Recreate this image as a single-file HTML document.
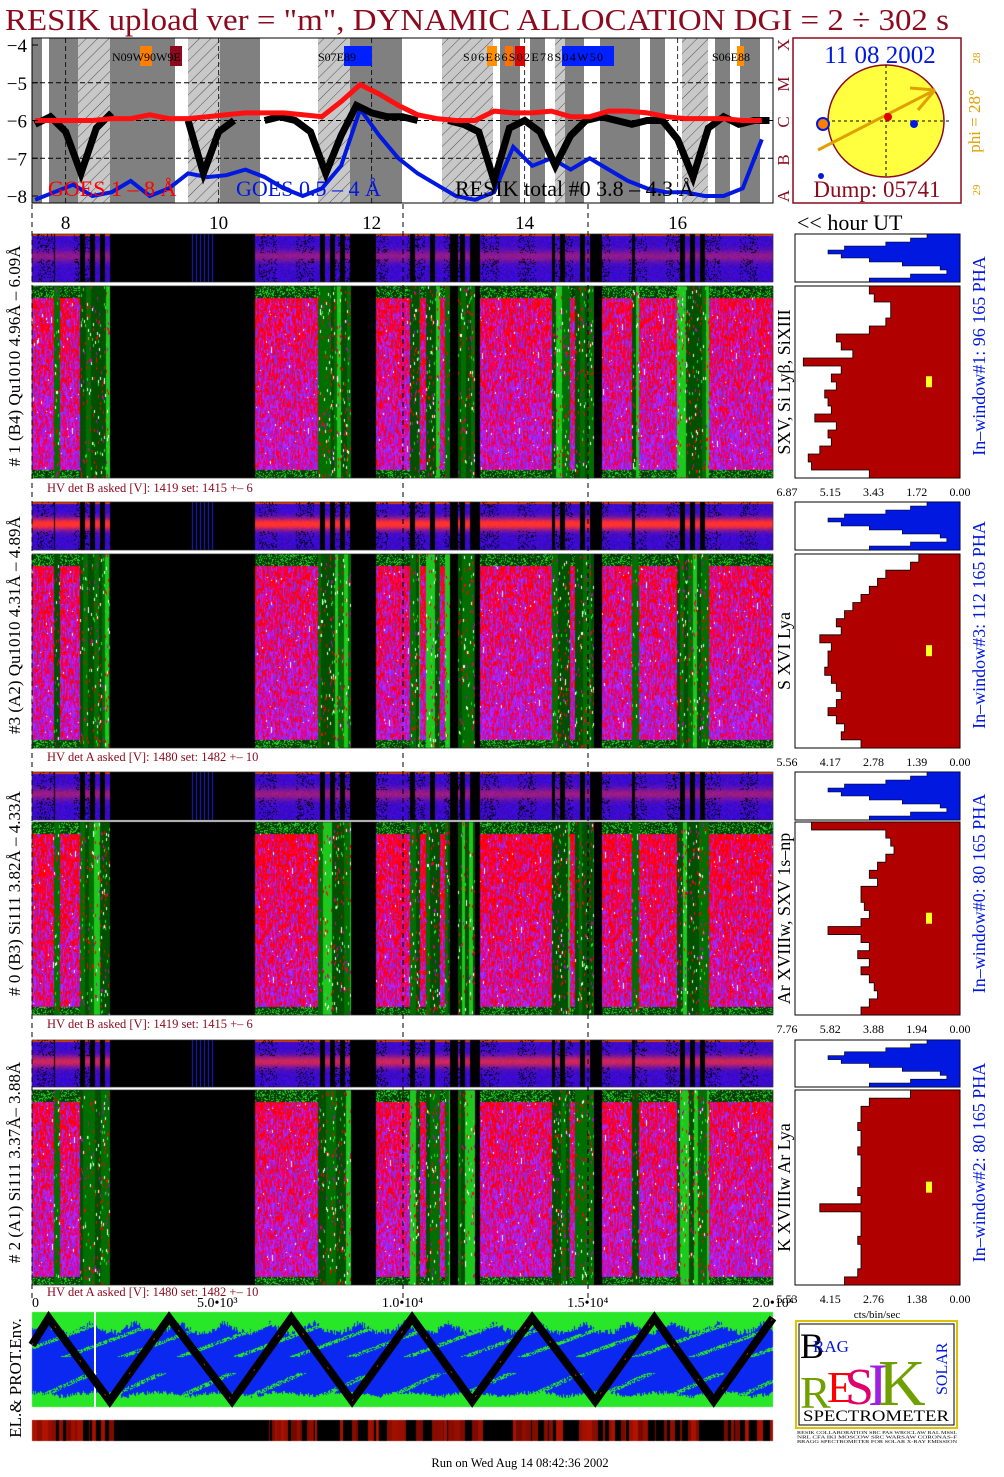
<!DOCTYPE html>
<html><head><meta charset="utf-8"><style>
html,body{margin:0;padding:0;background:#fff;}
#wrap{position:relative;width:1004px;height:1477px;overflow:hidden;}
canvas,svg{position:absolute;left:0;top:0;}
text{font-family:"Liberation Serif",serif;}
</style></head><body>
<div id="wrap">
<canvas id="cv" width="1004" height="1477"></canvas>
<svg id="sv" width="1004" height="1477" xmlns="http://www.w3.org/2000/svg"></svg>
</div>
<script>
// ---------- data ----------
const hours = [7.6,7.85,8.1,8.35,8.6,8.85,9.1,9.35,9.6,9.85,10.1,10.35,10.6,10.85,11.1,11.35,11.6,11.85,12.1,12.35,12.6,12.85,13.1,13.35,13.6,13.85,14.1,14.35,14.6,14.85,15.1,15.35,15.6,15.85,16.1,16.35,16.6,16.85,17.1];
const goesLong = [-6.0,-6.0,-6.0,-6.0,-5.95,-5.95,-5.85,-5.95,-5.95,-5.9,-5.85,-5.8,-5.8,-5.8,-5.85,-5.9,-5.5,-5.05,-5.3,-5.6,-5.85,-5.95,-6.0,-6.0,-5.75,-5.8,-5.8,-5.75,-5.9,-5.9,-5.75,-5.75,-5.8,-5.9,-5.95,-5.95,-5.95,-6.0,-6.0];
const goesShort = [-8.1,-7.9,-7.7,-8.0,-7.9,-7.6,-8.0,-7.8,-7.4,-7.5,-7.45,-7.3,-7.5,-7.8,-8.0,-7.8,-7.2,-5.7,-6.4,-7.0,-7.4,-7.7,-8.0,-8.1,-7.9,-6.7,-7.2,-7.0,-7.3,-7.0,-7.3,-7.6,-7.8,-7.9,-7.9,-8.0,-8.0,-7.8,-6.5];
const resikHours = [7.6,7.8,8.0,8.2,8.4,8.6,8.8,9.0,9.2,9.4,9.6,9.8,10.0,10.2,10.4,10.6,10.8,11.0,11.2,11.4,11.6,11.8,12.0,12.2,12.4,12.6,12.8,13.0,13.2,13.4,13.6,13.8,14.0,14.2,14.4,14.6,14.8,15.0,15.2,15.4,15.6,15.8,16.0,16.2,16.4,16.6,16.8,17.0,17.2];
const resikTotal = [-6.1,-5.9,-6.3,-7.4,-6.2,-5.8,null,null,null,null,-6.0,-7.4,-6.3,-6.0,null,-6.0,-5.9,-6.0,-6.3,-7.4,-6.4,-5.6,-5.8,-5.9,-5.9,-6.0,null,-6.0,-6.1,-6.3,-7.6,-6.2,-6.0,-6.3,-7.2,-6.4,-6.0,-5.9,-6.0,-6.1,-6.0,-6.0,-6.5,-7.5,-6.2,-5.9,-6.1,-6.0,-6.0];
const yTicks = [-4,-5,-6,-7,-8];
const hourTicks = [8,10,12,14,16];
const histA = [0.55,0.52,0.42,0.42,0.45,0.55,0.75,0.72,0.65,0.95,0.72,0.78,0.75,0.82,0.8,0.78,0.88,0.75,0.8,0.78,0.85,0.92,0.9,0.55];
const histB = [0.25,0.3,0.45,0.5,0.55,0.6,0.65,0.7,0.75,0.72,0.85,0.78,0.8,0.8,0.82,0.78,0.75,0.72,0.75,0.8,0.75,0.7,0.72,0.6];
const histC = [0.9,0.45,0.42,0.4,0.45,0.5,0.55,0.5,0.6,0.6,0.58,0.55,0.6,0.8,0.6,0.55,0.62,0.55,0.6,0.55,0.52,0.5,0.55,0.6];
const histD = [0.3,0.55,0.6,0.6,0.62,0.6,0.6,0.62,0.6,0.6,0.6,0.6,0.62,0.6,0.85,0.6,0.6,0.6,0.62,0.6,0.6,0.6,0.62,0.7];
const phaProfile = [0.2,0.3,0.45,0.7,0.8,0.72,0.55,0.35,0.12,0.08,0.3,0.55];
const histTicksA = ["6.87","5.15","3.43","1.72","0.00"];
const histTicksB = ["5.56","4.17","2.78","1.39","0.00"];
const histTicksC = ["7.76","5.82","3.88","1.94","0.00"];
const histTicksD = ["5.53","4.15","2.76","1.38","0.00"];
const envPeaks = [0,1,0,1,0,1,0,1,0,1,0,1,0,1];
const envX = [0,0.0225,0.105,0.185,0.27,0.35,0.432,0.513,0.594,0.675,0.76,0.84,0.92,1.0];
const envTicks = ["0","5.0•10³","1.0•10⁴","1.5•10⁴","2.0•10⁴"];
</script>
<script>
const NS="http://www.w3.org/2000/svg";
const sv=document.getElementById('sv');
function el(tag,attrs,parent){const e=document.createElementNS(NS,tag);for(const k in attrs)e.setAttribute(k,attrs[k]);(parent||sv).appendChild(e);return e;}
function txt(s,attrs,parent){const e=el('text',attrs,parent);e.textContent=s;return e;}
const DR='#8b0a1e';
// ---------- canvas textures ----------
const cv=document.getElementById('cv');const ctx=cv.getContext('2d');
let seed=12345;function rnd(){seed=(seed*1103515245+12345)&0x7fffffff;return seed/0x7fffffff;}
const L=32,R=773;
const greenI=[[54,60],[80,110],[318,351],[410,420],[426,440],[445,450],[458,475],[552,570],[575,594],[632,639],[677,709]];
const blackI=[[110,255],[351,376],[450,458],[475,480],[594,602]];
function ctype(x){for(const b of blackI)if(x>=b[0]&&x<b[1])return 'k';for(const g of greenI)if(x>=g[0]&&x<g[1])return 'g';return 'm';}
const panels=[{sy:234,sh:48,y:286,h:192,hv:488,band:0.4},{sy:502,sh:48,y:554,h:194,hv:757,band:1},{sy:772,sh:48,y:822,h:193,hv:1024,band:0.45},{sy:1040,sh:47,y:1090,h:195,hv:1292,band:0.7}];
const img=ctx.createImageData(1004,1477);const D=img.data;
function px(x,y,c){const i=(y*1004+x)*4;D[i]=c[0];D[i+1]=c[1];D[i+2]=c[2];D[i+3]=255;}
const magC=[[255,0,0],[230,0,150],[176,40,255],[140,40,230],[255,0,60]];
panels.forEach((p,pi)=>{
  let subShade=null,subEnd=0;
  for(let x=L;x<R;x++){
    const t=ctype(x);
    if(t==='g'&&x>=subEnd){subEnd=x+3+Math.floor(rnd()*4);const r=rnd();subShade=r<0.2?[30,200,30]:(r<0.6?[0,110,0]:[0,80,0]);}
    let prev=null,dash=0,dashC=null;
    for(let r=0;r<p.h;r++){
      const y=p.y+r;let c;
      if(t==='k'){c=[0,0,0];}
      else if(t==='g'){
        if(dash>0){c=dashC;dash--;}
        else if(rnd()<0.03){const q=rnd();dashC=q<0.4?[255,0,0]:(q<0.6?[200,0,200]:(q<0.8?[40,230,40]:[255,255,255]));dash=2;c=dashC;}
        else c=subShade;
      } else {
        if(r<12||r>p.h-9){const q=rnd();c=q<0.25?[40,220,40]:(q<0.5?[0,90,0]:[10,50,10]);}
        else{
          const tt=r/p.h;
          if(prev&&rnd()<0.55)c=prev;
          else{const q=rnd();const pr=0.62-0.5*tt+(pi===2?0.15:0);
            if(q<0.006)c=[255,255,255];
            else if(rnd()<pr)c=magC[rnd()<0.7?0:4];
            else c=magC[1+Math.floor(rnd()*3)];}
          prev=c;
        }
      }
      px(x,y,c);
    }
    for(let r=0;r<p.sh;r++){
      const y=p.sy+r;let c;const tt=r/p.sh;
      if(t==='k'){c=(x>188&&x<215&&(x%4===0))?[30,30,220]:[0,0,0];}
      else if(t==='g'&&(Math.floor(x/5)%2===0)){c=[0,0,0];}
      else{
        const band=p.band*Math.exp(-Math.pow((tt-0.45)/0.13,2));
        const base=[40+rnd()*40,10,170+rnd()*70];
        c=[base[0]+band*210,base[1]+band*40,base[2]*(1-band*0.8)];
        if(r<2)c=[220,60,0];
        if(band<0.3&&rnd()<0.18&&(x%37<18))c=[0,0,0];
      }
      px(x,y,c);
    }
  }
});
const eY=1312,eH=95;
for(let x=L;x<R;x++){
  const topG=8+Math.floor(10*Math.abs(Math.sin(x*0.07))+rnd()*6);
  const botG=eH-10-Math.floor(rnd()*4+4*Math.abs(Math.sin(x*0.05)));
  for(let r=0;r<eH;r++){
    let g=(r<topG)||(r>botG);
    if(!g&&r<45&&Math.sin(x*0.11+r*0.3)>0.85&&rnd()<0.7)g=true;
    if(!g&&r>60&&Math.sin(x*0.09+r*0.2)>0.9&&rnd()<0.6)g=true;
    px(x,eY+r,g?[40,230,40]:[10,40,240]);
  }
}
let bw=0,bc=[0,0,0];
for(let x=L;x<R;x++){
  if(bw<=0){bw=1+Math.floor(rnd()*6);const v=(x>112&&x<255)?rnd()*0.2:rnd();bc=v<0.45?[0,0,0]:[Math.floor(60+v*120),Math.floor(v*20),0];}
  bw--;
  for(let y=1420;y<1441;y++)px(x,y,bc);
}
ctx.putImageData(img,0,0);

txt('RESIK upload ver = "m", DYNAMIC ALLOCATION  DGI =   2 ÷ 302 s',{x:5,y:30,'font-size':31,fill:DR,textLength:944,lengthAdjust:'spacingAndGlyphs',});

const gTop=el('g',{});
const T={x0:32,x1:773,y0:38,y1:203};
const hx=h=>32+(h-7.56)*76.5;
const ly=v=>45+(-4-v)*37.75;
const defs=el('defs',{});
const pat=el('pattern',{id:'hatch',width:8,height:8,patternUnits:'userSpaceOnUse',patternTransform:'rotate(45)'},defs);
el('rect',{width:8,height:8,fill:'#c8c8c8'},pat);
el('line',{x1:0,y1:0,x2:0,y2:8,stroke:'#333','stroke-width':0.8},pat);
const bands=[[32,42,'g'],[49,78,'g'],[78,110,'h'],[110,175,'g'],[188,220,'h'],[220,260,'g'],[318,350,'h'],[350,402,'g'],[442,493,'h'],[500,520,'g'],[530,545,'g'],[555,565,'h'],[565,584,'g'],[600,640,'g'],[650,665,'g'],[682,708,'h'],[715,730,'g'],[740,760,'g']];
el('rect',{x:T.x0,y:T.y0,width:T.x1-T.x0,height:T.y1-T.y0,fill:'#fff'},gTop);
bands.forEach(b=>{const r=el('rect',{x:b[0],y:T.y0,width:b[1]-b[0],height:T.y1-T.y0,fill:b[2]==='g'?'#808080':'url(#hatch)'},gTop);});
[-5,-6,-7].forEach(v=>el('line',{x1:T.x0,x2:T.x1,y1:ly(v),y2:ly(v),stroke:'#000','stroke-dasharray':'5,3','stroke-width':1},gTop));
[8,10,12,14,16].forEach(h=>el('line',{x1:hx(h),x2:hx(h),y1:T.y0,y2:T.y1,stroke:'#000','stroke-dasharray':'5,3','stroke-width':0.8},gTop));
[[140,12,'#ff8000'],[170,12,DR],[344,28,'#0020ff'],[487,10,'#ff9000'],[505,8,'#ff7000'],[515,10,'#e00000'],[562,52,'#0020ff'],[737,7,'#ff9000']].forEach(f=>{el('rect',{x:f[0],y:46,width:f[1],height:20,fill:f[2]},gTop);});
txt('N09W90W9E',{x:112,y:61,'font-size':12,fill:'#000'},gTop);
txt('S07E89',{x:318,y:61,'font-size':12,fill:'#000'},gTop);
txt('S06E86S02E78S04W50',{x:463,y:61,'font-size':12,fill:'#000',textLength:140},gTop);
txt('S06E88',{x:712,y:61,'font-size':12,fill:'#000'},gTop);
function pathOf(xs,arr){let d='';let pen=false;arr.forEach((v,i)=>{if(v===null){pen=false;return;}d+=(pen?'L':'M')+hx(xs[i]).toFixed(1)+','+ly(v).toFixed(1);pen=true;});return d;}
const clip=el('clipPath',{id:'tclip'},defs);el('rect',{x:T.x0,y:T.y0,width:T.x1-T.x0,height:T.y1-T.y0},clip);
const lb=el('path',{d:pathOf(hours,goesShort),fill:'none',stroke:'#0018e0','stroke-width':4,'clip-path':'url(#tclip)'},gTop);

const lk=el('path',{d:pathOf(resikHours,resikTotal),fill:'none',stroke:'#000','stroke-width':7,'clip-path':'url(#tclip)'},gTop);

const lr=el('path',{d:pathOf(hours,goesLong),fill:'none',stroke:'#ff1010','stroke-width':5,'clip-path':'url(#tclip)'},gTop);

el('rect',{x:T.x0,y:T.y0,width:T.x1-T.x0,height:T.y1-T.y0,fill:'none',stroke:'#000'},gTop);
yTicks.forEach(v=>{const t=txt('−'+Math.abs(v),{x:27,y:ly(v)+7,'font-size':19,'text-anchor':'end',fill:'#000'},gTop);el('line',{x1:T.x0,x2:T.x0+6,y1:ly(v),y2:ly(v),stroke:'#000'},gTop);});
txt('GOES 1 – 8 Å',{x:48,y:196,'font-size':22,fill:'#ff0000',},gTop);
txt('GOES 0.5 – 4 Å',{x:236,y:196,'font-size':22,fill:'#0018e0',},gTop);
txt('RESIK total #0  3.8 – 4.3 Å',{x:455,y:196,'font-size':22,fill:'#000',},gTop);
[['A',196],['B',160],['C',122],['M',84],['X',45]].forEach(c=>txt(c[0],{x:0,y:0,'font-size':17,fill:DR,transform:`translate(789,${c[1]}) rotate(-90)`,'text-anchor':'middle'},gTop));
hourTicks.forEach(h=>{const t=txt(String(h),{x:hx(h),y:229,'font-size':19,'text-anchor':'middle',fill:'#000'});});
txt('<< hour UT',{x:797,y:230,'font-size':22,fill:'#000',});
[32,403,588].forEach(x=>el('line',{x1:x,x2:x,y1:204,y2:1300,stroke:'#000','stroke-dasharray':'5,4','stroke-width':1}));

const gs=el('g',{});
el('rect',{x:793,y:38,width:168,height:165,fill:'#fff',stroke:DR,'stroke-width':1.5},gs);
txt('11 08 2002',{x:880,y:63,'font-size':25,'text-anchor':'middle',fill:'#0018e0'},gs);
el('ellipse',{cx:886,cy:121,rx:58,ry:56,fill:'#ffff40',stroke:DR,'stroke-width':1.5},gs);
el('line',{x1:820,x2:952,y1:121,y2:121,stroke:'#000','stroke-dasharray':'3,3'},gs);
el('line',{x1:886,x2:886,y1:65,y2:177,stroke:'#000','stroke-dasharray':'3,3'},gs);
el('line',{x1:818,x2:935,y1:150,y2:90,stroke:'#e0a000','stroke-width':3},gs);
el('line',{x1:910,x2:935,y1:88,y2:90,stroke:'#e0a000','stroke-width':3},gs);
el('line',{x1:918,x2:935,y1:110,y2:90,stroke:'#e0a000','stroke-width':3},gs);
el('circle',{cx:823,cy:124,r:6,fill:'#ff8000',stroke:'#0018e0','stroke-width':2},gs);
el('circle',{cx:888,cy:117,r:4,fill:'#e00000'},gs);
el('circle',{cx:914,cy:124,r:4,fill:'#0018e0'},gs);
el('circle',{cx:821,cy:176,r:3,fill:'#0018e0'},gs);
txt('Dump: 05741',{x:877,y:197,'font-size':23,'text-anchor':'middle',fill:DR},gs);
txt('phi = 28°',{x:0,y:0,'font-size':17,fill:'#e0a000',transform:'translate(980,121) rotate(-90)','text-anchor':'middle'},gs);
txt('28',{x:0,y:0,'font-size':11,fill:'#e0a000',transform:'translate(980,58) rotate(-90)','text-anchor':'middle'},gs);
txt('29',{x:0,y:0,'font-size':11,fill:'#e0a000',transform:'translate(980,190) rotate(-90)','text-anchor':'middle'},gs);

const leftLabels=['# 1 (B4) Qu1010 4.96Å – 6.09Å','#3 (A2) Qu1010  4.31Å – 4.89Å','# 0 (B3) Si111  3.82Å – 4.33Å','# 2 (A1) Si111  3.37Å– 3.88Å'];
const hvLabels=['HV det B asked [V]:  1419 set:  1415 +–    6','HV det A asked [V]:  1480 set:  1482 +–   10','HV det B asked [V]:  1419 set:  1415 +–    6','HV det A asked [V]:  1480 set:  1482 +–   10'];
const lineLabels=['SXV, Si Lyβ, SiXIII','S XVI Lya','Ar XVIIIw,  SXV  1s–np','K XVIIIw   Ar Lya'];
const winLabels=['In–window#1:   96 165   PHA','In–window#3:   112 165   PHA','In–window#0:   80 165   PHA','In–window#2:   80 165   PHA'];
const hists=[histA,histB,histC,histD];
const hticks=[histTicksA,histTicksB,histTicksC,histTicksD];
const HX0=795,HX1=960;
panels.forEach((p,i)=>{
  const g=el('g',{});
  el('rect',{x:L,y:p.sy,width:R-L,height:p.sh,fill:'none',stroke:'#000','stroke-width':0.5},g);
  el('rect',{x:L,y:p.y,width:R-L,height:p.h,fill:'none',stroke:'#000','stroke-width':0.5},g);
  const cy=(p.sy+p.y+p.h)/2;
  txt(leftLabels[i],{x:0,y:0,'font-size':17,fill:'#000','text-anchor':'middle',transform:`translate(20,${cy}) rotate(-90)`},g);
  txt(hvLabels[i],{x:47,y:p.hv+4,'font-size':12.5,fill:DR},g);
  txt(lineLabels[i],{x:0,y:0,'font-size':18,fill:'#000','text-anchor':'middle',transform:`translate(790,${p.y+p.h/2}) rotate(-90)`},g);
  txt(winLabels[i],{x:0,y:0,'font-size':18,fill:'#0018e0','text-anchor':'middle',transform:`translate(985,${cy}) rotate(-90)`},g);
  const ph=el('g',{},g);
  el('rect',{x:HX0,y:p.sy,width:HX1-HX0,height:p.sh,fill:'#fff',stroke:'#000'},ph);
  let d='M'+HX1+','+p.sy;const n=phaProfile.length,rh=p.sh/n;
  phaProfile.forEach((v,k)=>{const xx=HX1-v*(HX1-HX0);d+=`L${xx.toFixed(1)},${(p.sy+k*rh).toFixed(1)}L${xx.toFixed(1)},${(p.sy+(k+1)*rh).toFixed(1)}`;});
  d+='L'+HX1+','+(p.sy+p.sh)+'Z';
  el('path',{d:d,fill:'#0018e0',stroke:'#000','stroke-width':0.6},ph);
  const hg=el('g',{},g);
  el('rect',{x:HX0,y:p.y,width:HX1-HX0,height:p.h,fill:'#fff',stroke:'#000'},hg);
  const hv=hists[i],m=hv.length,hh=p.h/m;
  let d2='M'+HX1+','+p.y;
  hv.forEach((v,k)=>{const xx=HX1-v*(HX1-HX0);d2+=`L${xx.toFixed(1)},${(p.y+k*hh).toFixed(1)}L${xx.toFixed(1)},${(p.y+(k+1)*hh).toFixed(1)}`;});
  d2+='L'+HX1+','+(p.y+p.h)+'Z';
  const hp=el('path',{d:d2,fill:'#b00000',stroke:'#000','stroke-width':0.8},hg);
  
  el('rect',{x:926,y:p.y+p.h*0.47,width:6,height:11,fill:'#ffff20'},hg);
  hticks[i].forEach((s,k)=>{const xx=HX0-8+k*(HX1-HX0+8)/4;txt(s,{x:xx,y:p.y+p.h+18,'font-size':12,'text-anchor':'middle',fill:'#000'},hg);});
});
txt('cts/bin/sec',{x:877,y:1318,'font-size':11,'text-anchor':'middle',fill:'#000',});

const ge=el('g',{});
envTicks.forEach((s,k)=>{const t=txt(s,{x:32+k*(R-L)/4,y:1307,'font-size':14,'text-anchor':k===0?'start':'middle',fill:'#000'},ge);});
el('line',{x1:95,x2:95,y1:1312,y2:1407,stroke:'#fff','stroke-width':2},ge);
let zd='';envX.forEach((f,k)=>{const x=L+f*(R-L);const y=envPeaks[k]?1318:(k===0?1345:1401);zd+=(k?'L':'M')+x.toFixed(1)+','+y;});
const zz=el('path',{d:zd,fill:'none',stroke:'#000','stroke-width':8,'stroke-linejoin':'miter'},ge);

el('path',{d:zd,fill:'none',stroke:'#b03000','stroke-width':1,'stroke-dasharray':'2,40'},ge);
txt('EL.& PROT.Env.',{x:0,y:0,'font-size':17,fill:'#000','text-anchor':'middle',transform:'translate(21,1378) rotate(-90)'},ge);
txt('Run on Wed Aug 14 08:42:36 2002',{x:520,y:1467,'font-size':12.5,'text-anchor':'middle',fill:'#000',});

const lg=el('g',{});
el('rect',{x:796,y:1321,width:161,height:107,fill:'#fff',stroke:'#e0c000','stroke-width':2},lg);
el('rect',{x:799,y:1324,width:155,height:101,fill:'#fff',stroke:'#000','stroke-width':1},lg);
txt('B',{x:800,y:1358,'font-size':36,fill:'#000'},lg);
txt('RAG',{x:813,y:1352,'font-size':17,fill:'#0018e0'},lg);
txt('R',{x:800,y:1408,'font-size':46,fill:'#70a000'},lg);
txt('E',{x:827,y:1402,'font-size':44,fill:'#ff0000'},lg);
txt('S',{x:845,y:1404,'font-size':52,fill:'#e0006a'},lg);
txt('I',{x:868,y:1405,'font-size':60,fill:'#a020e0'},lg);
txt('K',{x:878,y:1405,'font-size':66,fill:'#70a000'},lg);
txt('SOLAR',{x:0,y:0,'font-size':16,fill:'#0018e0',transform:'translate(947,1395) rotate(-90)'},lg);
txt('SPECTROMETER',{x:876,y:1421,'font-size':15.5,'text-anchor':'middle',fill:'#000',textLength:146,lengthAdjust:'spacingAndGlyphs'},lg);
['RESIK COLLABORATION SRC PAS WROCLAW RAL MSSL','NRL CFA IKI MOSCOW SRC WARSAW CORONAS-F','BRAGG SPECTROMETER FOR SOLAR X-RAY EMISSION'].forEach((s,k)=>txt(s,{x:797,y:1434+k*4.5,'font-size':4.5,fill:'#000',textLength:160,lengthAdjust:'spacingAndGlyphs'},lg));
</script>
</body></html>
